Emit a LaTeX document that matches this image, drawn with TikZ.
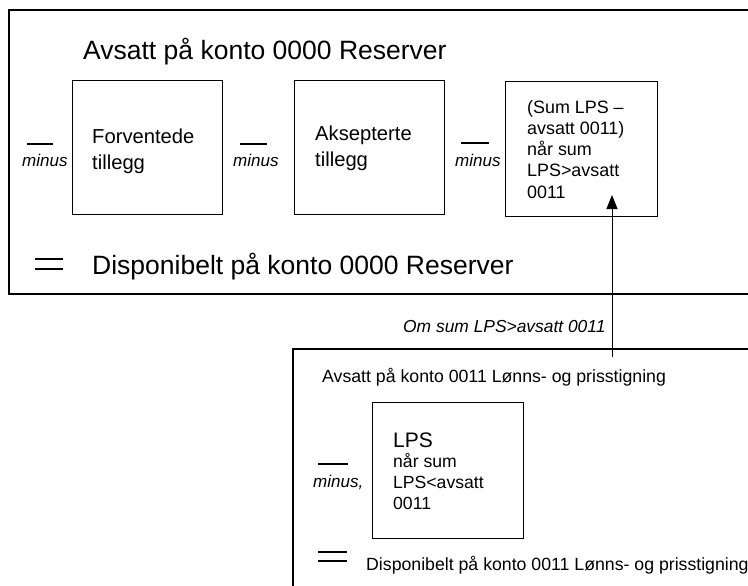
\documentclass[tikz,border=0pt]{standalone}
\usepackage{fontspec}
\setmainfont{Liberation Sans}
\usetikzlibrary{arrows.meta}
\begin{document}
\begin{tikzpicture}[x=1pt,y=-1pt,
  txt/.style={inner sep=0pt,anchor=base west},
  bigtxt/.style={txt,font=\fontsize{26.5}{30}\selectfont},
  midtxt/.style={txt,font=\fontsize{17.7}{21}\selectfont},
  minustxt/.style={txt,font=\fontsize{17}{20}\selectfont\itshape},
  boxtxt/.style={txt,align=left,font=\fontsize{20.2}{26}\selectfont},
  smalltxt/.style={txt,align=left,font=\fontsize{17.9}{21.2}\selectfont},
  rect/.style={draw,line width=1.4pt,inner sep=0pt,anchor=north west},
  panel/.style={line width=1.6pt},
  bar/.style={line width=1.4pt}]
\useasboundingbox (0,0) rectangle (748,586);
% top panel
\draw[panel] (748,10) -- (9,10) -- (9,294) -- (748,294);
\node[bigtxt] (t1) at (83,60) {Avsatt på konto 0000 Reserver};
\node[rect,minimum width=150pt,minimum height=134pt] (b1) at (72,80) {};
\node[rect,minimum width=150pt,minimum height=134pt] (b2) at (294,80) {};
\node[rect,minimum width=152pt,minimum height=135pt] (b3) at (505,81) {};
% anchor base = baseline of the last line
\node[boxtxt] (b1t) at (92,169) {Forventede\\tillegg};
\node[boxtxt] (b2t) at (315,167) {Aksepterte\\tillegg};
\node[smalltxt] (b3t) at (527,198) {(Sum LPS –\\avsatt 0011)\\når sum\\LPS>avsatt\\0011};
\draw[bar] (27,144) -- (53,144);
\node[minustxt] (m1) at (22,167) {minus};
\draw[bar] (240,144) -- (267,144);
\node[minustxt] (m2) at (233,167) {minus};
\draw[bar] (461,143) -- (489,143);
\node[minustxt] (m3) at (455,167) {minus};
\draw[bar] (35,259) -- (63,259);
\draw[bar] (35,269) -- (63,269);
\node[bigtxt] (d1) at (92,274) {Disponibelt på konto 0000 Reserver};
% connector
\node[minustxt,font=\fontsize{17.4}{20}\selectfont\itshape] (om) at (403,332) {Om sum LPS>avsatt 0011};
\coordinate (astart) at (612,357);
\coordinate (aend) at (612,195);
\draw[line width=1pt,-{Triangle[length=14pt,width=11pt]}] (astart) -- (aend);
% bottom panel
\draw[panel] (748,349) -- (293,349) -- (293,586);
\node[midtxt] (t2) at (322,382) {Avsatt på konto 0011 Lønns- og prisstigning};
\node[rect,minimum width=151pt,minimum height=136pt] (b4) at (372,402) {};
\node[txt,font=\fontsize{21}{24}\selectfont] (lps) at (393,447) {LPS};
\node[smalltxt,font=\fontsize{17.6}{20.7}\selectfont] (b4t) at (393,509) {når sum\\LPS<avsatt\\0011};
\draw[bar] (318,464) -- (348,464);
\node[minustxt] (m4) at (313,487) {minus,};
\draw[bar] (318,552) -- (347,552);
\draw[bar] (318,561) -- (347,561);
\node[midtxt] (d2) at (366,570) {Disponibelt på konto 0011 Lønns- og prisstigning};
\end{tikzpicture}
\end{document}
